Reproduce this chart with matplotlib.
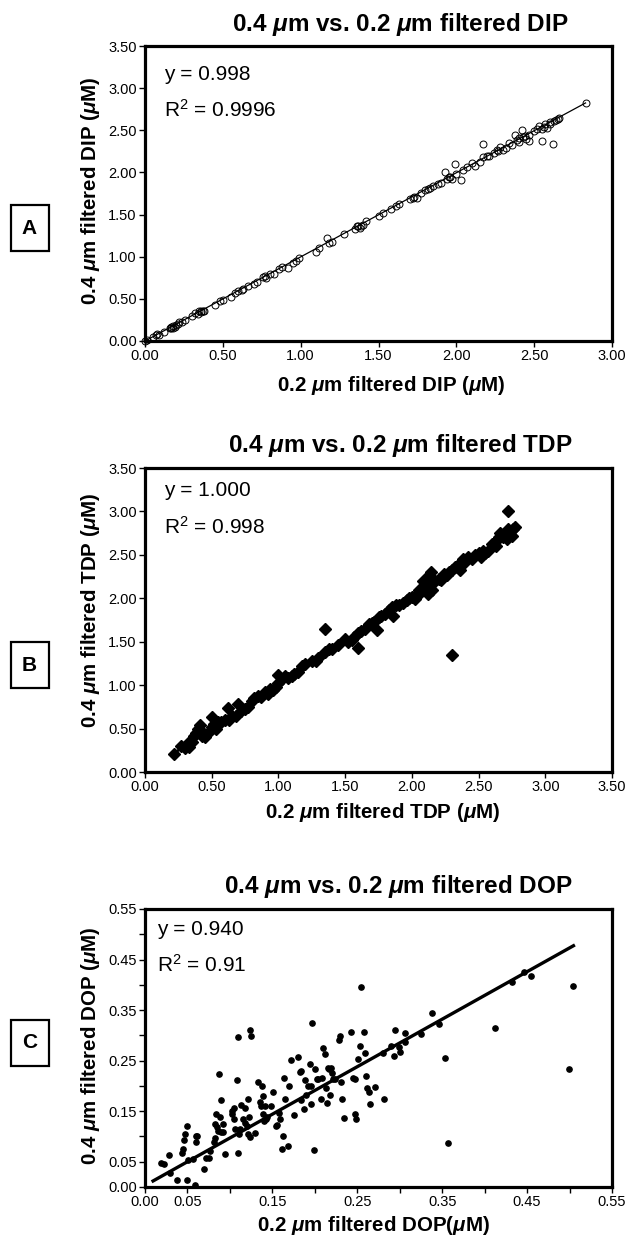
import matplotlib
matplotlib.use("Agg")
import matplotlib.pyplot as plt
from matplotlib.patches import Rectangle
import numpy as np

plt.rcParams['font.family'] = ['Liberation Sans', 'DejaVu Sans']
plt.rcParams['mathtext.fontset'] = 'custom'
plt.rcParams['mathtext.rm'] = 'Liberation Sans'
plt.rcParams['mathtext.it'] = 'Liberation Sans:italic:bold'
plt.rcParams['mathtext.bf'] = 'Liberation Sans:bold'

# ---------------- data ----------------
# Panel A: DIP
dip_x = [0.00, 0.01, 0.05, 0.07, 0.08, 0.09, 0.12, 0.16, 0.17, 0.18, 0.18, 0.19, 0.20, 0.21, 0.22, 0.24,
         0.26, 0.30, 0.32, 0.34, 0.35, 0.36, 0.37, 0.38, 0.45, 0.48, 0.50, 0.55, 0.58, 0.60, 0.63, 0.66,
         0.70, 0.72, 0.76, 0.78, 0.80, 0.83, 0.86, 0.88, 0.92, 0.95, 0.97, 0.99, 1.10, 1.12, 1.17, 1.18,
         1.20, 1.28, 1.35, 1.37, 1.38, 1.40, 1.42, 1.50, 1.53, 1.58, 1.61, 1.63, 1.70, 1.73, 1.75, 1.77,
         1.80, 1.82, 1.85, 1.88, 1.90, 1.93, 1.94, 1.96, 1.97, 1.99, 2.00, 2.03, 2.04, 2.07, 2.10, 2.12,
         2.15, 2.17, 2.17, 2.20, 2.24, 2.27, 2.28, 2.30, 2.32, 2.34, 2.36, 2.38, 2.39, 2.40, 2.42, 2.43,
         2.45, 2.47, 2.47, 2.50, 2.52, 2.53, 2.55, 2.56, 2.57, 2.58, 2.60, 2.62, 2.63, 2.65, 2.66, 2.83,
         1.36, 1.39, 0.17, 0.36, 2.40, 2.44, 2.55, 2.60, 2.64, 0.77, 0.62, 1.95, 1.83, 1.72, 2.21, 2.26]
dip_y = [0.00, 0.01, 0.05, 0.07, 0.08, 0.07, 0.11, 0.16, 0.17, 0.16, 0.18, 0.17, 0.19, 0.20, 0.22, 0.22,
         0.25, 0.30, 0.33, 0.32, 0.35, 0.34, 0.36, 0.35, 0.43, 0.47, 0.49, 0.52, 0.57, 0.59, 0.62, 0.65,
         0.68, 0.70, 0.76, 0.75, 0.79, 0.80, 0.86, 0.88, 0.87, 0.92, 0.95, 0.98, 1.06, 1.10, 1.22, 1.16,
         1.18, 1.27, 1.33, 1.36, 1.34, 1.38, 1.42, 1.48, 1.52, 1.57, 1.60, 1.62, 1.68, 1.71, 1.70, 1.75,
         1.79, 1.80, 1.84, 1.86, 1.87, 2.01, 1.92, 1.94, 1.92, 2.10, 1.98, 1.91, 2.03, 2.06, 2.11, 2.08,
         2.12, 2.34, 2.18, 2.20, 2.23, 2.25, 2.30, 2.27, 2.29, 2.35, 2.33, 2.44, 2.38, 2.41, 2.50, 2.42,
         2.40, 2.37, 2.44, 2.49, 2.52, 2.55, 2.37, 2.54, 2.57, 2.53, 2.60, 2.34, 2.61, 2.63, 2.64, 2.82,
         1.36, 1.37, 0.15, 0.36, 2.36, 2.43, 2.52, 2.58, 2.62, 0.77, 0.60, 1.94, 1.82, 1.70, 2.19, 2.27]
dip_slope = 0.998
dip_fit_range = [0.0, 2.83]

# Panel B: TDP
tdp_x = [0.22, 0.27, 0.30, 0.32, 0.33, 0.35, 0.37, 0.38, 0.40, 0.41, 0.42, 0.43, 0.44, 0.45, 0.47, 0.50,
         0.50, 0.52, 0.53, 0.55, 0.57, 0.60, 0.62, 0.63, 0.65, 0.68, 0.70, 0.72, 0.75, 0.77, 0.80, 0.82,
         0.85, 0.87, 0.90, 0.92, 0.94, 0.96, 0.98, 1.00, 1.00, 1.03, 1.05, 1.07, 1.10, 1.12, 1.15, 1.18,
         1.20, 1.25, 1.28, 1.30, 1.35, 1.35, 1.38, 1.40, 1.45, 1.50, 1.52, 1.55, 1.57, 1.60, 1.60, 1.62,
         1.65, 1.68, 1.70, 1.72, 1.74, 1.75, 1.77, 1.80, 1.83, 1.85, 1.86, 1.88, 1.90, 1.93, 1.96, 1.98,
         2.00, 2.02, 2.04, 2.05, 2.07, 2.08, 2.10, 2.12, 2.13, 2.14, 2.15, 2.17, 2.20, 2.22, 2.24, 2.26,
         2.28, 2.30, 2.30, 2.32, 2.35, 2.36, 2.38, 2.40, 2.42, 2.45, 2.47, 2.50, 2.52, 2.53, 2.55, 2.57,
         2.60, 2.62, 2.63, 2.65, 2.66, 2.68, 2.70, 2.71, 2.72, 2.72, 2.73, 2.75, 2.76, 2.77]
tdp_y = [0.21, 0.30, 0.28, 0.33, 0.29, 0.34, 0.41, 0.45, 0.50, 0.54, 0.47, 0.42, 0.44, 0.40, 0.45, 0.52,
         0.63, 0.55, 0.50, 0.57, 0.58, 0.60, 0.74, 0.60, 0.65, 0.65, 0.78, 0.70, 0.73, 0.75, 0.82, 0.85,
         0.88, 0.86, 0.92, 0.90, 0.96, 0.94, 0.98, 1.12, 1.02, 1.07, 1.10, 1.08, 1.11, 1.13, 1.15, 1.22,
         1.24, 1.28, 1.28, 1.31, 1.65, 1.38, 1.42, 1.42, 1.46, 1.53, 1.50, 1.52, 1.55, 1.43, 1.60, 1.62,
         1.65, 1.70, 1.72, 1.73, 1.64, 1.78, 1.80, 1.82, 1.86, 1.90, 1.80, 1.92, 1.92, 1.95, 1.98, 2.00,
         2.02, 1.99, 2.05, 2.10, 2.07, 2.20, 2.17, 2.05, 2.27, 2.30, 2.10, 2.20, 2.22, 2.21, 2.28, 2.27,
         2.30, 1.35, 2.32, 2.36, 2.40, 2.33, 2.45, 2.42, 2.48, 2.45, 2.50, 2.52, 2.48, 2.55, 2.52, 2.55,
         2.63, 2.65, 2.60, 2.70, 2.75, 2.70, 2.72, 2.68, 3.00, 2.80, 2.75, 2.72, 2.80, 2.82]
tdp_slope = 1.000
tdp_fit_range = [0.22, 2.75]

# Panel C: DOP
dop_x = [0.019, 0.022, 0.028, 0.029, 0.038, 0.050, 0.051, 0.044, 0.045, 0.046, 0.047, 0.050, 0.060, 0.060,
         0.061, 0.056, 0.070, 0.072, 0.075, 0.076, 0.081, 0.083, 0.083, 0.084, 0.085, 0.086, 0.087, 0.088,
         0.089, 0.092, 0.092, 0.094, 0.090, 0.102, 0.102, 0.105, 0.105, 0.106, 0.108, 0.109, 0.110, 0.111,
         0.112, 0.113, 0.115, 0.118, 0.118, 0.120, 0.121, 0.121, 0.123, 0.124, 0.125, 0.124, 0.129, 0.133,
         0.135, 0.137, 0.138, 0.139, 0.139, 0.140, 0.141, 0.143, 0.144, 0.148, 0.151, 0.154, 0.156, 0.158,
         0.159, 0.161, 0.162, 0.164, 0.165, 0.169, 0.170, 0.172, 0.175, 0.180, 0.182, 0.184, 0.184, 0.187,
         0.188, 0.190, 0.192, 0.194, 0.195, 0.196, 0.197, 0.199, 0.200, 0.202, 0.204, 0.207, 0.209, 0.210,
         0.212, 0.213, 0.214, 0.215, 0.217, 0.218, 0.219, 0.220, 0.221, 0.224, 0.229, 0.230, 0.231, 0.232,
         0.234, 0.243, 0.245, 0.247, 0.247, 0.248, 0.251, 0.253, 0.254, 0.258, 0.259, 0.260, 0.262, 0.264,
         0.265, 0.271, 0.280, 0.282, 0.290, 0.293, 0.295, 0.299, 0.300, 0.306, 0.306, 0.325, 0.338, 0.346,
         0.353, 0.357, 0.412, 0.432, 0.446, 0.455, 0.499, 0.504, 0.059]
dop_y = [0.048, 0.046, 0.063, 0.028, 0.013, 0.014, 0.053, 0.067, 0.075, 0.093, 0.104, 0.121, 0.101, 0.090,
         0.100, 0.055, 0.036, 0.057, 0.058, 0.071, 0.090, 0.096, 0.124, 0.144, 0.119, 0.111, 0.223, 0.139,
         0.172, 0.125, 0.108, 0.065, 0.109, 0.145, 0.150, 0.157, 0.134, 0.114, 0.211, 0.296, 0.067, 0.104,
         0.114, 0.162, 0.135, 0.127, 0.157, 0.121, 0.104, 0.175, 0.139, 0.311, 0.298, 0.098, 0.106, 0.208,
         0.169, 0.160, 0.200, 0.180, 0.145, 0.131, 0.160, 0.135, 0.139, 0.160, 0.188, 0.121, 0.122, 0.147,
         0.134, 0.076, 0.100, 0.216, 0.174, 0.081, 0.200, 0.251, 0.142, 0.258, 0.228, 0.229, 0.172, 0.154,
         0.211, 0.182, 0.199, 0.244, 0.164, 0.199, 0.325, 0.073, 0.233, 0.213, 0.213, 0.175, 0.215, 0.275,
         0.263, 0.195, 0.166, 0.236, 0.234, 0.182, 0.236, 0.226, 0.213, 0.213, 0.290, 0.299, 0.207, 0.175,
         0.136, 0.307, 0.216, 0.213, 0.144, 0.135, 0.254, 0.279, 0.395, 0.307, 0.266, 0.220, 0.195, 0.187,
         0.164, 0.197, 0.266, 0.174, 0.279, 0.259, 0.311, 0.276, 0.268, 0.304, 0.286, 0.302, 0.345, 0.322,
         0.255, 0.088, 0.314, 0.406, 0.426, 0.418, 0.233, 0.398, 0.004]
dop_slope = 0.940
dop_intercept = 0.003
dop_fit_range = [0.0095, 0.5046]

# ticks
ab_ticks = [0.0, 0.5, 1.0, 1.5, 2.0, 2.5, 3.0, 3.5]
ab_ticklabels = ['0.00', '0.50', '1.00', '1.50', '2.00', '2.50', '3.00', '3.50']
c_ticks = [0.0, 0.05, 0.10, 0.15, 0.20, 0.25, 0.30, 0.35, 0.40, 0.45, 0.50, 0.55]
c_ticklabels = ['0.00', '0.05', '', '0.15', '', '0.25', '', '0.35', '', '0.45', '', '0.55']

# ---------------- figure ----------------
W, H = 636, 1237
fig = plt.figure(figsize=(W / 100, H / 100), dpi=100)
fig.patch.set_facecolor('white')


def px_axes(left, top, right, bottom):
    return fig.add_axes([left / W, 1 - bottom / H, (right - left) / W, (bottom - top) / H])


def style(ax, xt, xtl, yt, ytl, xlim, ylim):
    ax.set_xlim(*xlim)
    ax.set_ylim(*ylim)
    ax.set_xticks(xt)
    ax.set_xticklabels(xtl)
    ax.set_yticks(yt)
    ax.set_yticklabels(ytl)
    for s in ax.spines.values():
        s.set_linewidth(2.3)
    ax.tick_params(direction='out', length=4, width=1.0, labelsize=10.5, pad=2,
                   top=False, right=False)


def title(txt, x, y):
    fig.text(x / W, 1 - y / H, txt, ha='center', va='center', fontsize=17.5, fontweight='bold')


def panel_letter(letter, cx, cy):
    w, h = 38, 46
    fig.patches.append(Rectangle(((cx - w / 2) / W, 1 - (cy + h / 2) / H), w / W, h / H,
                                 transform=fig.transFigure, fill=False, lw=1.6, ec='black'))
    fig.text(cx / W, 1 - cy / H, letter, ha='center', va='center', fontsize=15, fontweight='bold')


lab_kw = dict(fontsize=14.8, fontweight='bold')
ann_kw = dict(fontsize=15, va='center')

# Panel A
axA = px_axes(145, 46, 612, 341)
style(axA, ab_ticks[:7], ab_ticklabels[:7], ab_ticks, ab_ticklabels, (0, 3.0), (0, 3.5))
xs = np.array(dip_fit_range)
axA.plot(xs, dip_slope * xs, color='black', lw=0.9, zorder=3)
axA.plot(dip_x, dip_y, 'o', mfc='none', mec='black', mew=0.7, ms=5, zorder=2, clip_on=False)
axA.set_xlabel(r'0.2 $\mu$m filtered DIP ($\mu$M)', **lab_kw)
axA.set_ylabel(r'0.4 $\mu$m filtered DIP ($\mu$M)', **lab_kw)
axA.xaxis.set_label_coords(0.527, -0.112)
axA.yaxis.set_label_coords(-0.092, 0.51)
axA.text(0.04, 0.905, 'y = 0.998', transform=axA.transAxes, **ann_kw)
axA.text(0.04, 0.785, r'R$^2$ = 0.9996', transform=axA.transAxes, **ann_kw)
title(r'0.4 $\mu$m vs. 0.2 $\mu$m filtered DIP', 400, 24)
panel_letter('A', 29.5, 228)

# Panel B
axB = px_axes(145, 468, 612, 772)
style(axB, ab_ticks, ab_ticklabels, ab_ticks, ab_ticklabels, (0, 3.5), (0, 3.5))
xs = np.array(tdp_fit_range)
axB.plot(xs, tdp_slope * xs, color='black', lw=2.0, zorder=2)
axB.plot(tdp_x, tdp_y, 'D', color='black', ms=6.3, zorder=3)
axB.set_xlabel(r'0.2 $\mu$m filtered TDP ($\mu$M)', **lab_kw)
axB.set_ylabel(r'0.4 $\mu$m filtered TDP ($\mu$M)', **lab_kw)
axB.xaxis.set_label_coords(0.509, -0.097)
axB.yaxis.set_label_coords(-0.092, 0.53)
axB.text(0.04, 0.925, 'y = 1.000', transform=axB.transAxes, **ann_kw)
axB.text(0.04, 0.805, r'R$^2$ = 0.998', transform=axB.transAxes, **ann_kw)
title(r'0.4 $\mu$m vs. 0.2 $\mu$m filtered TDP', 400, 445)
panel_letter('B', 29.5, 665)

# Panel C
axC = px_axes(145, 909, 612, 1187)
style(axC, c_ticks, c_ticklabels, c_ticks, c_ticklabels, (0, 0.55), (0, 0.55))
xs = np.array(dop_fit_range)
axC.plot(xs, dop_slope * xs + dop_intercept, color='black', lw=2.4, zorder=2)
axC.plot(dop_x, dop_y, 'o', color='black', ms=3.8, zorder=3, clip_on=False)
axC.set_xlabel(r'0.2 $\mu$m filtered DOP($\mu$M)', **lab_kw)
axC.set_ylabel(r'0.4 $\mu$m filtered DOP ($\mu$M)', **lab_kw)
axC.xaxis.set_label_coords(0.49, -0.098)
axC.yaxis.set_label_coords(-0.092, 0.51)
axC.text(0.025, 0.925, 'y = 0.940', transform=axC.transAxes, **ann_kw)
axC.text(0.025, 0.80, r'R$^2$ = 0.91', transform=axC.transAxes, **ann_kw)
title(r'0.4 $\mu$m vs. 0.2 $\mu$m filtered DOP', 398, 887)
panel_letter('C', 29.5, 1043)

fig.savefig('out.png', dpi=100, facecolor='white')
